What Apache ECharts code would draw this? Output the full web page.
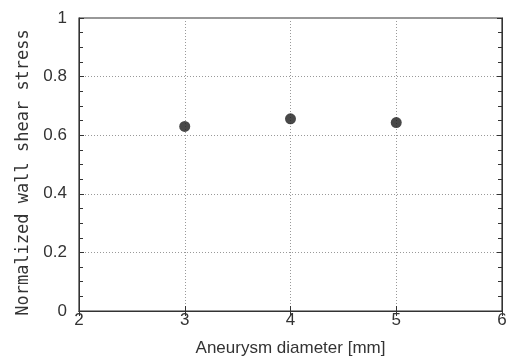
<!DOCTYPE html>
<html>
<head>
<meta charset="utf-8">
<script src="https://cdn.jsdelivr.net/npm/echarts@6/dist/echarts.min.js"></script>
<style>
  html, body { margin: 0; padding: 0; background: #fff; }
  #chart { width: 512px; height: 356px; }
</style>
</head>
<body>
<div id="chart"></div>
<script>
// aneurysm diameter [mm] vs normalized WSS
const diameters = [3, 4, 5];
const wssValues = [0.63, 0.656, 0.643];

const xTitle = "Aneurysm diameter [mm]";
const yTitle = "Normalized wall shear stress";

const ink = "#333";
const font = "Liberation Sans, Arial, sans-serif";
const monoFont = "DejaVu Sans Mono, Liberation Mono, monospace";

const chart = echarts.init(document.getElementById("chart"));

const tickStyle = { color: ink, width: 1 };

chart.setOption({
  animation: false,
  grid: {
    left: 79,
    right: 10,
    top: 18,
    bottom: 45,
    outerBoundsMode: "none",
    containLabel: false,
    show: true,
    borderColor: ink,
    borderWidth: 1.2,
  },
  xAxis: [
    {
      type: "value",
      min: 2,
      max: 6,
      interval: 1,
      name: xTitle,
      nameLocation: "middle",
      nameGap: 29,
      nameTextStyle: { color: ink, fontSize: 17, fontFamily: font },
      axisLine: { show: true, onZero: false, lineStyle: { color: ink } },
      axisTick: { show: true, inside: true, length: 5, lineStyle: tickStyle },
      axisLabel: { color: ink, fontSize: 17, fontFamily: font, margin: 1 },
      splitLine: {
        show: true,
        lineStyle: { color: "#999", type: [1, 2], width: 1 },
      },
    },
    {
      type: "value",
      position: "top",
      min: 2,
      max: 6,
      interval: 1,
      axisLine: { show: true, lineStyle: { color: ink } },
      axisTick: { show: true, inside: true, length: 5, lineStyle: tickStyle },
      axisLabel: { show: false },
      splitLine: { show: false },
    },
  ],
  yAxis: [
    {
      type: "value",
      min: 0,
      max: 1,
      interval: 0.2,
      name: yTitle,
      nameLocation: "middle",
      nameGap: 47,
      nameTextStyle: {
        color: ink,
        fontSize: 17,
        fontFamily: monoFont,
        padding: [0, 16, 0, 0],
      },
      axisLine: { show: true, onZero: false, lineStyle: { color: ink } },
      axisTick: { show: true, inside: true, length: 5, lineStyle: tickStyle },
      minorTick: { show: true, splitNumber: 4, length: 4, lineStyle: tickStyle },
      axisLabel: { color: ink, fontSize: 17, fontFamily: font, margin: 12 },
      splitLine: {
        show: true,
        lineStyle: { color: "#999", type: [1, 2], width: 1 },
      },
    },
    {
      type: "value",
      position: "right",
      min: 0,
      max: 1,
      interval: 0.2,
      axisLine: { show: true, lineStyle: { color: ink } },
      axisTick: { show: true, inside: true, length: 5, lineStyle: tickStyle },
      minorTick: { show: true, splitNumber: 4, length: 4, lineStyle: tickStyle },
      axisLabel: { show: false },
      splitLine: { show: false },
    },
  ],
  series: [
    {
      type: "scatter",
      data: diameters.map((d, i) => [d, wssValues[i]]),
      symbol: "circle",
      symbolSize: 11,
      itemStyle: { color: "#1a1a1a" },
    },
  ],
});
</script>
</body>
</html>
